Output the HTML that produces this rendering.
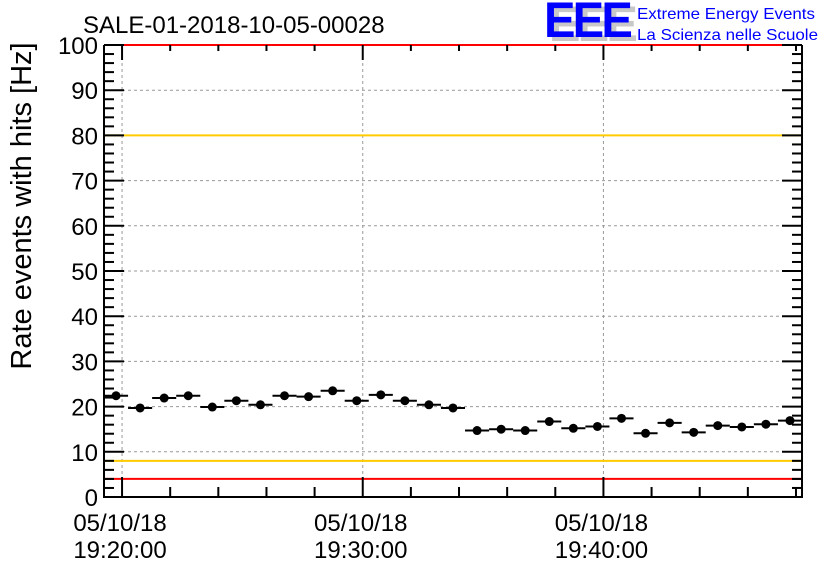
<!DOCTYPE html>
<html><head><meta charset="utf-8"><style>
body{margin:0;background:#fff;}
svg{display:block;font-family:"Liberation Sans",sans-serif;}
</style></head><body>
<svg id="c" width="836" height="572" viewBox="0 0 836 572">
<rect width="836" height="572" fill="#fff"/>
<text x="83" y="33" font-size="24" fill="#000">SALE-01-2018-10-05-00028</text>
<g>
<text x="549" y="41" font-size="50" font-weight="bold" fill="#c8c8c8" letter-spacing="-3" textLength="86" lengthAdjust="spacingAndGlyphs">EEE</text>
<text x="544" y="37" font-size="50" font-weight="bold" fill="#0000ff" letter-spacing="-3" textLength="86" lengthAdjust="spacingAndGlyphs">EEE</text>
<text x="637" y="19" font-size="16" fill="#0000ff" textLength="178" lengthAdjust="spacingAndGlyphs">Extreme Energy Events</text>
<text x="637" y="40" font-size="16" fill="#0000ff" textLength="181" lengthAdjust="spacingAndGlyphs">La Scienza nelle Scuole</text>
</g>
<g id="grid"></g><g id="lines"></g><g id="axes"></g><g id="marks"></g>
<text transform="translate(31,206) rotate(-90)" text-anchor="middle" font-size="29">Rate events with hits [Hz]</text>
</svg>
<script>
const values=[22.4,19.7,21.9,22.4,19.9,21.3,20.4,22.4,22.2,23.5,21.3,22.6,21.3,20.4,19.7,14.7,15.0,14.7,16.7,15.2,15.6,17.4,14.1,16.4,14.3,15.8,15.5,16.1,16.9];
const yTicks=[0,10,20,30,40,50,60,70,80,90,100];
const xTickMinutes=[20,30,40];
const xTickDates=["05/10/18","05/10/18","05/10/18"];
const xTickTimes=["19:20:00","19:30:00","19:40:00"];
const refLines=[{v:100,c:"#ff0000"},{v:80,c:"#ffcc00"},{v:8,c:"#ffcc00"},{v:4,c:"#ff0000"}];
const L=104,R=802,T=45,B=497;
const xMin=19.25,xMax=48.25,t0=19.75,step=1.0;
const X=m=>L+(m-xMin)/(xMax-xMin)*(R-L);
const Y=v=>B-v/100*(B-T);
const NS="http://www.w3.org/2000/svg";
function mk(tag,attrs,parent){const e=document.createElementNS(NS,tag);for(const k in attrs)e.setAttribute(k,attrs[k]);document.getElementById(parent).appendChild(e);return e;}
yTicks.forEach(v=>{if(v>0&&v<100){const g=mk('line',{x1:L,x2:R,y1:Y(v),y2:Y(v),stroke:'#999','stroke-dasharray':'3,3'},'grid');

}});
xTickMinutes.forEach(m=>{const g=mk('line',{x1:X(m),x2:X(m),y1:T,y2:B,stroke:'#999','stroke-dasharray':'3,3'},'grid');

});
refLines.forEach(r=>{const l=mk('line',{x1:L,x2:R,y1:Y(r.v),y2:Y(r.v),stroke:r.c,'stroke-width':2},'lines');

});
const f=mk('path',{d:`M${L},${T}V${B}H${R}V${T}`,fill:'none',stroke:'#000','stroke-width':2},'axes');


for(let v=0;v<=100;v+=2){const maj=v%10===0;const len=maj?20:10;
mk('line',{x1:L,x2:L+len,y1:Y(v),y2:Y(v),stroke:'#000','stroke-width':2},'axes');
mk('line',{x1:R,x2:R-len,y1:Y(v),y2:Y(v),stroke:'#000','stroke-width':2},'axes');}
yTicks.forEach(v=>{const t=mk('text',{x:L-6,y:Y(v)+9,'text-anchor':'end','font-size':24},'axes');t.textContent=v;

});
for(let m=20;m<=48;m+=2){const maj=m%10===0;const len=maj?20:10;
mk('line',{x1:X(m),x2:X(m),y1:B,y2:B-len,stroke:'#000','stroke-width':2},'axes');
mk('line',{x1:X(m),x2:X(m),y1:T,y2:T+(maj?15:6),stroke:'#000','stroke-width':2},'axes');}
xTickMinutes.forEach((m,i)=>{const t=mk('text',{x:X(m)-2,y:531,'text-anchor':'middle','font-size':24},'axes');t.textContent=xTickDates[i];


const t2=mk('text',{x:X(m)-2,y:558,'text-anchor':'middle','font-size':24},'axes');t2.textContent=xTickTimes[i];

});
values.forEach((v,i)=>{const c=t0+i*step;const w=step/2;
const l=mk('line',{x1:X(c-w),x2:X(c+w),y1:Y(v),y2:Y(v),stroke:'#000','stroke-width':2},'marks');


const p=mk('circle',{cx:X(c),cy:Y(v),r:4.5,fill:'#000'},'marks');

});
</script>
</body></html>
